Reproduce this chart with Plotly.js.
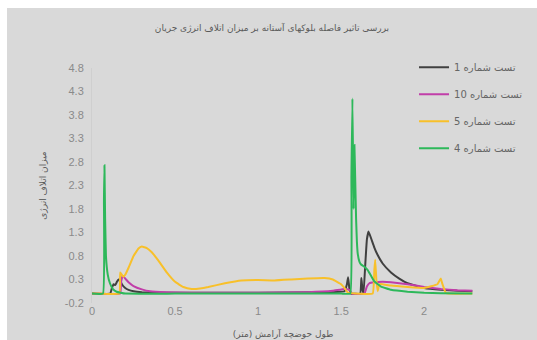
<!DOCTYPE html>
<html>
<head>
<meta charset="utf-8">
<script src="https://cdn.plot.ly/plotly-3.0.1.min.js"></script>
<style>
  html, body { margin: 0; padding: 0; background: #ffffff; width: 537px; height: 340px; overflow: hidden; }
  #chart { position: absolute; left: 7px; top: 8px; width: 530px; height: 332px; }
</style>
</head>
<body>
<div id="chart"></div>
<script>
// ---- data ----
var chartTitle = "بررسی تاثیر فاصله بلوکهای آستانه بر میزان اتلاف انرژی جریان";
var xTitle = "طول حوضچه آرامش (متر)";
var yTitle = "میزان اتلاف انرژی";
var seriesNames = ["تست شماره 1", "تست شماره 10", "تست شماره 5", "تست شماره 4"];

var test1X = [0, 0.11, 0.12, 0.13, 0.14, 0.15, 0.16, 0.17, 0.18, 0.2, 0.22, 0.25, 0.3, 0.4, 0.6, 1.0, 1.4, 1.52, 1.535, 1.542, 1.55, 1.56, 1.615, 1.622, 1.628, 1.635, 1.645, 1.655, 1.665, 1.68, 1.7, 1.72, 1.75, 1.8, 1.85, 1.9, 2.0, 2.1, 2.2, 2.29];
var test1Y = [0, 0, 0.12, 0.2, 0.18, 0.25, 0.3, 0.28, 0.2, 0.12, 0.08, 0.05, 0.03, 0.02, 0.02, 0.02, 0.03, 0.05, 0.2, 0.35, 0.1, 0, 0, 0.33, 0.1, 0, 0.6, 1.15, 1.32, 1.18, 0.98, 0.82, 0.64, 0.45, 0.32, 0.22, 0.12, 0.08, 0.06, 0.05];

var test10X = [0, 0.17, 0.175, 0.185, 0.2, 0.22, 0.25, 0.3, 0.35, 0.45, 0.6, 1.0, 1.3, 1.45, 1.52, 1.55, 1.565, 1.64, 1.655, 1.67, 1.7, 1.75, 1.8, 1.9, 2.0, 2.1, 2.2, 2.29];
var test10Y = [0, 0, 0.25, 0.38, 0.32, 0.24, 0.16, 0.09, 0.05, 0.03, 0.02, 0.02, 0.03, 0.06, 0.1, 0.08, 0, 0, 0.15, 0.22, 0.24, 0.25, 0.24, 0.2, 0.14, 0.1, 0.07, 0.06];

var test5X = [0, 0.05, 0.165, 0.17, 0.18, 0.19, 0.2, 0.22, 0.25, 0.28, 0.3, 0.33, 0.36, 0.4, 0.45, 0.5, 0.55, 0.6, 0.65, 0.7, 0.8, 0.9, 1.0, 1.1, 1.2, 1.3, 1.4, 1.45, 1.5, 1.52, 1.54, 1.69, 1.7, 1.705, 1.712, 1.72, 1.73, 1.75, 1.8, 1.9, 2.0, 2.08, 2.1, 2.11, 2.13, 2.15, 2.29];
var test5Y = [0, 0, 0, 0.45, 0.4, 0.36, 0.4, 0.55, 0.8, 0.96, 1.0, 0.97, 0.88, 0.7, 0.45, 0.25, 0.14, 0.1, 0.11, 0.14, 0.22, 0.28, 0.29, 0.28, 0.3, 0.32, 0.33, 0.3, 0.2, 0.12, 0.02, 0, 0.5, 0.72, 0.3, 0.05, 0.2, 0.2, 0.17, 0.14, 0.12, 0.2, 0.32, 0.2, 0.02, 0, 0];

var test4X = [0, 0.066, 0.072, 0.075, 0.079, 0.084, 0.095, 0.108, 0.125, 0.148, 0.2, 0.5, 1.0, 1.5, 1.555, 1.562, 1.568, 1.575, 1.58, 1.585, 1.59, 1.595, 1.6, 1.61, 1.62, 1.64, 1.66, 1.68, 1.7, 1.74, 1.8, 1.9, 2.0, 2.1, 2.29];
var test4Y = [0, 0, 2.0, 2.73, 1.6, 0.8, 0.4, 0.22, 0.1, 0.04, 0, 0, 0, 0, 0, 2.5, 4.15, 1.8, 3.16, 2.4, 1.6, 1.1, 0.85, 0.68, 0.62, 0.57, 0.5, 0.38, 0.26, 0.15, 0.08, 0.04, 0.02, 0.01, 0];

var xTicks = [0, 0.5, 1, 1.5, 2];
var yTicks = [-0.2, 0.3, 0.8, 1.3, 1.8, 2.3, 2.8, 3.3, 3.8, 4.3, 4.8];

// ---- chart ----
var colors = ["#404040", "#c13ea9", "#f8c02a", "#2db85a"];
var xs = [test1X, test10X, test5X, test4X];
var ys = [test1Y, test10Y, test5Y, test4Y];

var traces = seriesNames.map(function (n, i) {
  return {
    type: "scatter", mode: "lines", name: n,
    x: xs[i], y: ys[i],
    legendgroup: "g" + i,
    line: { color: colors[i], width: 2, shape: "spline", smoothing: 0.25 },
    hoverinfo: "skip"
  };
});

var tickFont = { family: "Liberation Sans Narrow, Liberation Sans, Arial, sans-serif", size: 11, color: "#8a8a8a" };

var layout = {
  width: 530, height: 332,
  paper_bgcolor: "#d9d9d9", plot_bgcolor: "#d9d9d9",
  margin: { l: 85, r: 63, t: 60, b: 37, autoexpand: false },
  title: {
    text: chartTitle,
    font: { family: "DejaVu Sans, sans-serif", size: 9, color: "#595959" },
    x: 0.5, xanchor: "center", y: 0.94, yanchor: "middle"
  },
  xaxis: {
    range: [0, 2.3], tickvals: xTicks, ticktext: xTicks.map(String),
    showgrid: false, zeroline: false, showline: false, ticks: "",
    tickfont: tickFont, automargin: false,
    title: { text: xTitle, font: { family: "DejaVu Sans, sans-serif", size: 9, color: "#595959" }, standoff: 14 }
  },
  yaxis: {
    range: [-0.2, 4.8], tickvals: yTicks, ticktext: yTicks.map(function (v) { return String(v); }),
    showgrid: false, zeroline: false, showline: true, linecolor: "#cfcfcf", linewidth: 1, ticks: "",
    tickfont: tickFont, ticklabelstandoff: 5, automargin: false,
    title: { text: yTitle, font: { family: "DejaVu Sans, sans-serif", size: 9, color: "#595959" }, standoff: 16 }
  },
  showlegend: true,
  legend: {
    x: 0.843, y: 1.065, xanchor: "left", yanchor: "top",
    bgcolor: "rgba(0,0,0,0)",
    font: { family: "DejaVu Sans, sans-serif", size: 10, color: "#666666" },
    tracegroupgap: 8, itemwidth: 30
  }
};

Plotly.newPlot("chart", traces, layout, { staticPlot: true, displayModeBar: false });
</script>
</body>
</html>
